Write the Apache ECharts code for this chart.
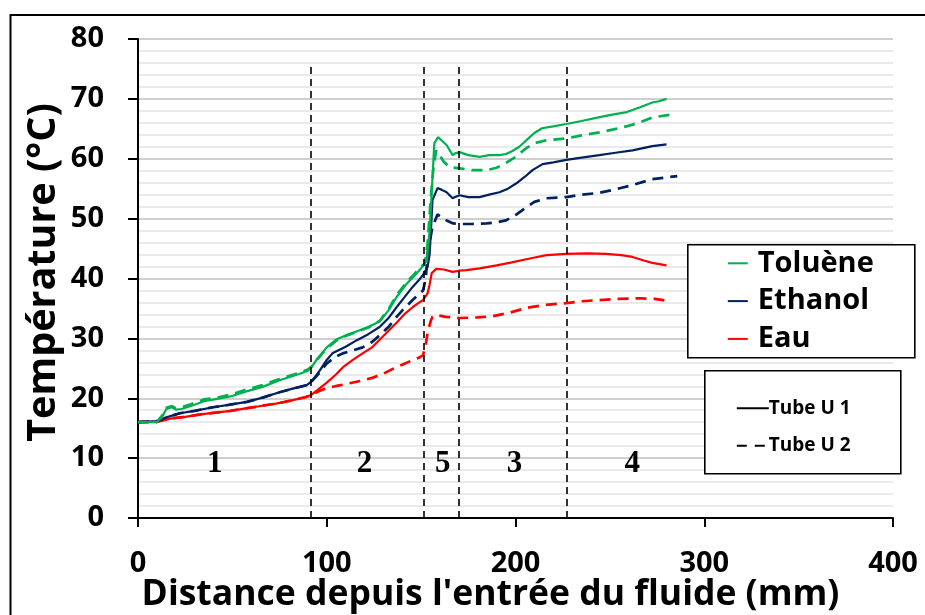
<!DOCTYPE html>
<html>
<head>
<meta charset="utf-8">
<title>Température le long du tube</title>
<script src="https://cdn.jsdelivr.net/npm/echarts@6/dist/echarts.min.js"></script>
<style>
  html, body { margin: 0; padding: 0; background: #ffffff; }
  #chart { width: 925px; height: 615px; }
</style>
</head>
<body>
<div id="chart"></div>
<script>
// Distance (mm) / temperature (°C) pairs for each fluid and tube
const tolueneU1 = [[0,16],[10,16],[13,17],[15,18.2],[18,18.5],[20,18.1],[23,18.2],[28,18.7],[35,19.5],[42,19.9],[49,20.3],[57,21.1],[66,21.9],[75,23],[85,24],[90,24.6],[92,25.2],[95,26.6],[100,28.5],[105,29.8],[110,30.5],[116,31.2],[122,31.9],[128,32.8],[133,34.8],[137,36.9],[142,39],[146,40.3],[150,41.7],[153,43],[154.5,48],[155.6,54.3],[157,62.6],[159,63.6],[161,63],[163.5,62.3],[166.7,60.6],[168,60.9],[170.4,61.1],[175,60.6],[181,60.3],[186,60.6],[191.5,60.6],[195,60.8],[198.4,61.3],[202,62],[205.8,63.1],[210,64.3],[214,65.1],[220,65.4],[227,65.8],[235,66.3],[244,66.9],[252,67.4],[259,67.8],[266,68.6],[272.5,69.4],[276,69.6],[280,70]];
const tolueneU2 = [[0,16],[10,16],[13,17.2],[15,18.4],[18,18.7],[20,18.3],[23,18.5],[28,19],[35,19.8],[42,20.1],[49,20.6],[57,21.4],[66,22.2],[75,23.2],[85,24.2],[90,24.8],[92,25.3],[95,26.5],[100,28.3],[105,29.6],[110,30.4],[116,31.1],[122,31.8],[128,32.9],[133,35],[137,37.2],[142,39.3],[146,40.6],[150,42],[152,42.5],[153.5,46],[155,53],[156.5,58.5],[158,61.4],[159.8,60.6],[162,59.5],[165,58.6],[170.4,58.4],[177,58.1],[184.7,58.1],[190,58.5],[195,59.3],[200,60.3],[205.8,61.8],[210,62.6],[216.4,63.1],[227,63.4],[235,63.9],[244.4,64.4],[252,64.9],[258.7,65.4],[266,66.1],[272.5,66.9],[283,67.4]];
const ethanolU1 = [[0,16],[11,16.2],[15,16.8],[22.2,17.5],[30,17.9],[39.7,18.5],[48,18.9],[57.7,19.4],[66,20.1],[75,21],[82,21.6],[89.4,22.2],[92,22.8],[96,24.5],[100,26.4],[103,27.5],[110,28.6],[116,29.7],[122,30.7],[128,31.9],[133,33.5],[137,35.2],[141,36.8],[145.5,38.6],[149,39.8],[151,40.6],[153.4,41.9],[154.5,44],[155.2,48],[156,53.1],[158.7,55.1],[161,54.8],[163.5,54.4],[166.7,53.4],[168,53.6],[170.4,53.9],[175,53.6],[181,53.6],[186,54],[191.5,54.4],[196,55],[200.5,55.9],[205,57],[209,58.1],[214.3,59.1],[220,59.4],[227,59.8],[235,60.2],[244.4,60.6],[253,61],[262,61.4],[272.5,62.1],[280,62.4]];
const ethanolU2 = [[0,16],[11,16.2],[15,16.8],[22.2,17.5],[30,17.9],[39.7,18.5],[48,18.9],[57.7,19.4],[66,20.1],[75,21],[82,21.6],[89.4,22.2],[92,22.8],[96,24.2],[100,25.8],[104,26.8],[108.5,27.5],[114,28],[119,28.5],[124,29.4],[128,30.5],[133,32],[137,33.6],[141,35],[145.5,36.4],[149,37.4],[151,38],[152.5,40],[153.4,44.2],[154.5,46],[156,48.6],[158.7,50.7],[161,50.2],[163.5,49.7],[167,49.2],[170.4,49.1],[177,49.1],[184.7,49.2],[190,49.4],[195,49.7],[200,50.6],[205.8,51.9],[210,52.8],[216.4,53.4],[227,53.6],[235,54],[244.4,54.3],[253,54.9],[262,55.6],[272.5,56.6],[285.7,57.1]];
const eauU1 = [[0,16],[10,16.1],[17,16.6],[25,16.9],[33,17.3],[41,17.6],[49,17.9],[57,18.3],[65,18.7],[73,19.1],[81,19.6],[89,20.2],[92,20.6],[96,21.6],[100,22.6],[105,24],[109,25.3],[113.8,26.4],[119,27.5],[124,28.5],[130,30.4],[137,32.6],[141,34],[145.5,35.2],[149,36],[151,36.4],[153.4,37.5],[154.5,39],[155.6,40.9],[158,41.6],[162,41.5],[166.7,41.1],[170,41.3],[174,41.4],[181,41.7],[190,42.2],[198,42.7],[207,43.3],[216.4,43.9],[227,44.1],[238,44.2],[248,44.1],[256,43.9],[262,43.6],[268,43],[272.5,42.6],[280,42.2]];
const eauU2 = [[0,16],[10,16.1],[17,16.6],[25,16.9],[33,17.3],[41,17.6],[49,17.9],[57,18.3],[65,18.7],[73,19.1],[81,19.6],[89,20.2],[92,20.6],[96,21.2],[100,21.7],[106,22.1],[112,22.5],[118,22.9],[124,23.4],[130,24.1],[135,24.9],[140,25.6],[145,26.3],[149,26.8],[151,27.2],[152.5,29],[153.4,30.9],[155,32.8],[156,33.6],[158,33.9],[163,33.6],[170.4,33.4],[180,33.5],[188,33.7],[197,34.3],[206,35.1],[216,35.6],[227,35.9],[235,36.2],[244.4,36.4],[255,36.6],[265.6,36.7],[274,36.6],[281.5,36.2]];

// Zone boundaries (mm) and zone numbers with their label positions
const zoneBounds = [91.7, 151.2, 169.9, 227.4];
const zoneTop = 75.4;
const zoneNames = ['1', '2', '5', '3', '4'];
const zoneLabelX = [40.7, 120, 161.4, 199.5, 261.8];
const zoneLabelY = 9.0;

const fluidNames = ['Toluène', 'Ethanol', 'Eau'];
const fluidColors = ['#00b050', '#002060', '#ff0000'];
const tubeNames = ['Tube U 1', 'Tube U 2'];

const FONT = '"Open Sans", "Noto Sans", sans-serif';
const chart = echarts.init(document.getElementById('chart'), null, { renderer: 'canvas' });

function lineSeries(name, data, color, dashed) {
  return {
    name: name,
    type: 'line',
    data: data,
    showSymbol: false,
    symbol: 'none',
    smooth: false,
    silent: true,
    z: dashed ? 3 : 4,
    lineStyle: dashed
      ? { color: color, width: 2.7, type: [11, 7] }
      : { color: color, width: 2.2 }
  };
}

const series = [
  lineSeries('Eau U2', eauU2, fluidColors[2], true),
  lineSeries('Eau U1', eauU1, fluidColors[2], false),
  lineSeries('Ethanol U2', ethanolU2, fluidColors[1], true),
  lineSeries('Ethanol U1', ethanolU1, fluidColors[1], false),
  lineSeries('Toluène U2', tolueneU2, fluidColors[0], true),
  lineSeries('Toluène U1', tolueneU1, fluidColors[0], false),
  {
    name: 'zones',
    type: 'scatter',
    symbolSize: 1,
    silent: true,
    z: 5,
    itemStyle: { opacity: 1, color: 'rgba(0,0,0,0)' },
    data: zoneNames.map((n, i) => ({ name: n, value: [zoneLabelX[i], zoneLabelY] })),
    label: {
      show: true,
      position: 'inside',
      formatter: p => p.name,
      fontFamily: '"Liberation Serif", "Times New Roman", serif',
      fontWeight: 'bold',
      fontSize: 31,
      color: '#000',
      opacity: 1
    },
    markLine: {
      silent: true,
      symbol: ['none', 'none'],
      label: { show: false },
      lineStyle: { color: '#000', width: 1.6, type: [7, 5], opacity: 1 },
      data: zoneBounds.map(b => [{ coord: [b, 0] }, { coord: [b, zoneTop] }])
    }
  }
];

// Legend boxes drawn as graphic elements above the plot
const LZ = 100;
const legendFluid = {
  type: 'group',
  left: 687,
  top: 244,
  children: [
    { type: 'rect', z: LZ, shape: { x: 0, y: 0, width: 227, height: 113 },
      style: { fill: '#fff', stroke: '#000', lineWidth: 1.6 } }
  ].concat(fluidNames.flatMap((n, i) => [
    { type: 'line', z: LZ + 1, shape: { x1: 40, y1: 18.5 + i * 37.8, x2: 60, y2: 18.5 + i * 37.8 },
      style: { stroke: fluidColors[i], lineWidth: 2 } },
    { type: 'text', z: LZ + 1, x: 70, y: 18.5 + i * 37.8,
      style: { text: n, fill: '#000', font: 'bold 29px ' + FONT, verticalAlign: 'middle', align: 'left' } }
  ]))
};

const legendTube = {
  type: 'group',
  left: 704,
  top: 370,
  children: [
    { type: 'rect', z: LZ, shape: { x: 0, y: 0, width: 196, height: 103 },
      style: { fill: '#fff', stroke: '#000', lineWidth: 1.6 } },
    { type: 'line', z: LZ + 1, shape: { x1: 32, y1: 37.5, x2: 64, y2: 37.5 },
      style: { stroke: '#000', lineWidth: 2 } },
    { type: 'text', z: LZ + 1, x: 64, y: 37.5,
      style: { text: tubeNames[0], fill: '#000', font: 'bold 19px ' + FONT, verticalAlign: 'middle', align: 'left' } },
    { type: 'line', z: LZ + 1, shape: { x1: 32, y1: 75, x2: 64, y2: 75 },
      style: { stroke: '#000', lineWidth: 2, lineDash: [10, 8] } },
    { type: 'text', z: LZ + 1, x: 64, y: 75,
      style: { text: tubeNames[1], fill: '#000', font: 'bold 19px ' + FONT, verticalAlign: 'middle', align: 'left' } }
  ]
};

const option = {
  backgroundColor: '#ffffff',
  animation: false,
  grid: { left: 138, right: 32, top: 39, bottom: 97, containLabel: false, outerBoundsMode: 'none' },
  xAxis: {
    type: 'value',
    min: 0,
    max: 400,
    interval: 100,
    name: "Distance depuis l'entrée du fluide (mm)",
    nameLocation: 'middle',
    nameGap: 59,
    nameMoveOverlap: false,
    nameTextStyle: { fontFamily: FONT, fontWeight: 'bold', fontSize: 35.5, color: '#000', padding: [0, 50, 0, 0] },
    axisLine: { show: true, onZero: false, lineStyle: { color: '#000', width: 2 } },
    axisTick: { show: true, inside: false, length: 9, lineStyle: { color: '#000', width: 2 } },
    axisLabel: { fontFamily: FONT, fontWeight: 'bold', fontSize: 29, color: '#000', margin: 31 },
    splitLine: { show: false }
  },
  yAxis: {
    type: 'value',
    min: 0,
    max: 80,
    interval: 10,
    name: 'Température (°C)',
    nameLocation: 'middle',
    nameRotate: 90,
    nameGap: 74,
    nameMoveOverlap: false,
    nameTextStyle: { fontFamily: FONT, fontWeight: 'bold', fontSize: 39.5, color: '#000', padding: [0, 0, 0, 12] },
    axisLine: { show: true, lineStyle: { color: '#000', width: 2 } },
    axisTick: { show: true, inside: false, length: 10, lineStyle: { color: '#000', width: 2 } },
    axisLabel: { fontFamily: FONT, fontWeight: 'bold', fontSize: 29, color: '#000', margin: 34 },
    splitLine: { show: true, lineStyle: { color: '#bfbfbf', width: 1.5 } },
    minorTick: { show: false, splitNumber: 5 },
    minorSplitLine: { show: true, lineStyle: { color: '#e4e4e4', width: 1.5 } }
  },
  series: series,
  graphic: [
    { type: 'rect', z: -1, silent: true,
      shape: { x: 10.5, y: 15, width: 930, height: 620 },
      style: { fill: 'none', stroke: '#000', lineWidth: 2 } },
    legendFluid,
    legendTube
  ]
};

chart.setOption(option);
</script>
</body>
</html>
